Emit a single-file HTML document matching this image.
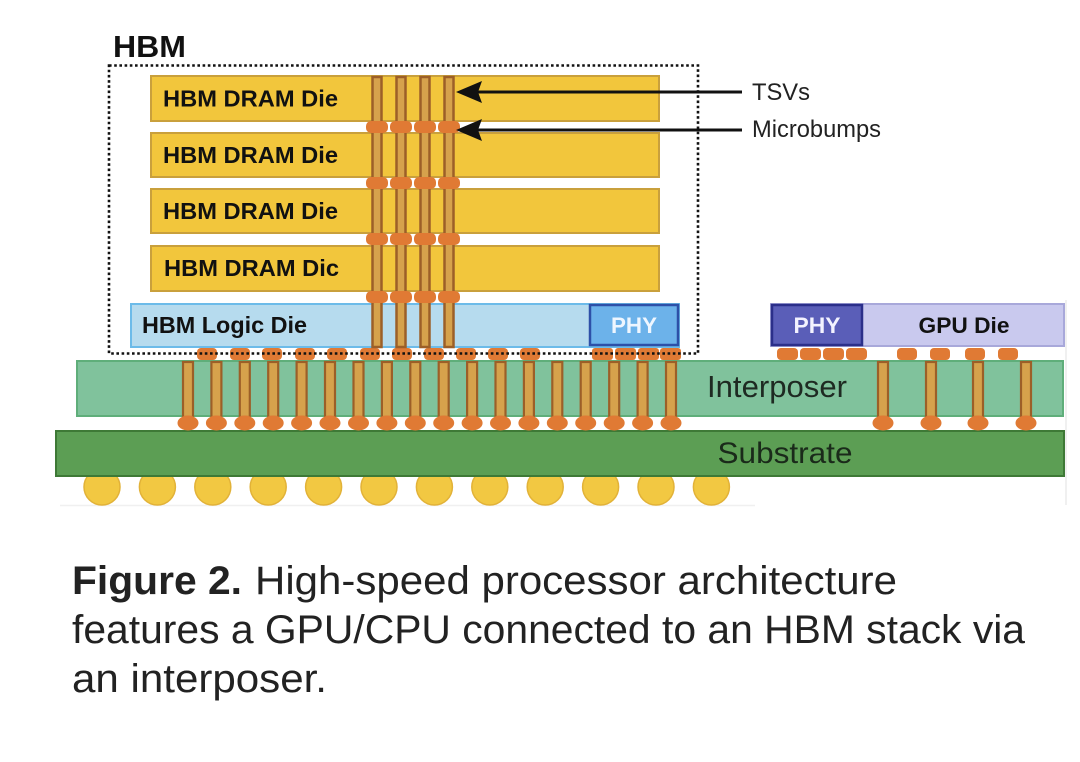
<!DOCTYPE html>
<html><head><meta charset="utf-8"><style>
html,body{margin:0;padding:0;background:#fff;}
svg{display:block;}
</style></head><body>
<svg width="1080" height="762" viewBox="0 0 1080 762" xmlns="http://www.w3.org/2000/svg">
<rect width="1080" height="762" fill="#fff"/>

<!-- faint image edges -->
<line x1="1066" y1="300" x2="1066" y2="505" stroke="#ececec" stroke-width="1.5"/>
<line x1="60" y1="505.5" x2="755" y2="505.5" stroke="#f0f0f0" stroke-width="1.5"/>

<!-- solder balls -->
<g fill="#f2c842" stroke="#e2b238" stroke-width="1.5">
<circle cx="102" cy="487" r="18"/><circle cx="157.4" cy="487" r="18"/><circle cx="212.8" cy="487" r="18"/>
<circle cx="268.2" cy="487" r="18"/><circle cx="323.6" cy="487" r="18"/><circle cx="379" cy="487" r="18"/>
<circle cx="434.4" cy="487" r="18"/><circle cx="489.8" cy="487" r="18"/><circle cx="545.2" cy="487" r="18"/>
<circle cx="600.6" cy="487" r="18"/><circle cx="656" cy="487" r="18"/><circle cx="711.4" cy="487" r="18"/>
</g>

<!-- substrate -->
<rect x="56" y="431" width="1008" height="45" fill="#5c9e54" stroke="#3e7936" stroke-width="2"/>
<text x="785" y="463" font-family="Liberation Sans, sans-serif" font-size="30" fill="#1a2a1a" text-anchor="middle" textLength="135" lengthAdjust="spacingAndGlyphs">Substrate</text>

<!-- interposer -->
<rect x="77" y="361" width="986" height="55" fill="#80c29c" stroke="#5fae7a" stroke-width="2"/>
<text x="777" y="397" font-family="Liberation Sans, sans-serif" font-size="31" fill="#1e2a22" text-anchor="middle" textLength="140" lengthAdjust="spacingAndGlyphs">Interposer</text>

<!-- interposer TSVs -->
<g fill="#d6a24c" stroke="#9c5f28" stroke-width="2.2">
<rect x="183" y="362" width="10" height="55"/><rect x="211.4" y="362" width="10" height="55"/>
<rect x="239.8" y="362" width="10" height="55"/><rect x="268.2" y="362" width="10" height="55"/>
<rect x="296.6" y="362" width="10" height="55"/><rect x="325" y="362" width="10" height="55"/>
<rect x="353.5" y="362" width="10" height="55"/><rect x="381.9" y="362" width="10" height="55"/>
<rect x="410.3" y="362" width="10" height="55"/><rect x="438.7" y="362" width="10" height="55"/>
<rect x="467.1" y="362" width="10" height="55"/><rect x="495.5" y="362" width="10" height="55"/>
<rect x="523.9" y="362" width="10" height="55"/><rect x="552.3" y="362" width="10" height="55"/>
<rect x="580.7" y="362" width="10" height="55"/><rect x="609.2" y="362" width="10" height="55"/>
<rect x="637.6" y="362" width="10" height="55"/><rect x="666" y="362" width="10" height="55"/>
<rect x="878" y="362" width="10" height="55"/><rect x="926" y="362" width="10" height="55"/>
<rect x="973" y="362" width="10" height="55"/><rect x="1021" y="362" width="10" height="55"/>
</g>
<!-- interposer bottom bumps -->
<g fill="#e07a34">
<ellipse cx="188" cy="423" rx="10.5" ry="7.5"/><ellipse cx="216.4" cy="423" rx="10.5" ry="7.5"/>
<ellipse cx="244.8" cy="423" rx="10.5" ry="7.5"/><ellipse cx="273.2" cy="423" rx="10.5" ry="7.5"/>
<ellipse cx="301.6" cy="423" rx="10.5" ry="7.5"/><ellipse cx="330" cy="423" rx="10.5" ry="7.5"/>
<ellipse cx="358.5" cy="423" rx="10.5" ry="7.5"/><ellipse cx="386.9" cy="423" rx="10.5" ry="7.5"/>
<ellipse cx="415.3" cy="423" rx="10.5" ry="7.5"/><ellipse cx="443.7" cy="423" rx="10.5" ry="7.5"/>
<ellipse cx="472.1" cy="423" rx="10.5" ry="7.5"/><ellipse cx="500.5" cy="423" rx="10.5" ry="7.5"/>
<ellipse cx="528.9" cy="423" rx="10.5" ry="7.5"/><ellipse cx="557.3" cy="423" rx="10.5" ry="7.5"/>
<ellipse cx="585.7" cy="423" rx="10.5" ry="7.5"/><ellipse cx="614.2" cy="423" rx="10.5" ry="7.5"/>
<ellipse cx="642.6" cy="423" rx="10.5" ry="7.5"/><ellipse cx="671" cy="423" rx="10.5" ry="7.5"/>
<ellipse cx="883" cy="423" rx="10.5" ry="7.5"/><ellipse cx="931" cy="423" rx="10.5" ry="7.5"/>
<ellipse cx="978" cy="423" rx="10.5" ry="7.5"/><ellipse cx="1026" cy="423" rx="10.5" ry="7.5"/>
</g>

<!-- top bumps die->interposer -->
<g fill="#e07a34">
<rect x="197" y="348" width="20" height="12" rx="4"/><rect x="230" y="348" width="20" height="12" rx="4"/>
<rect x="262" y="348" width="20" height="12" rx="4"/><rect x="295" y="348" width="20" height="12" rx="4"/>
<rect x="327" y="348" width="20" height="12" rx="4"/><rect x="360" y="348" width="20" height="12" rx="4"/>
<rect x="392" y="348" width="20" height="12" rx="4"/><rect x="424" y="348" width="20" height="12" rx="4"/>
<rect x="456" y="348" width="20" height="12" rx="4"/><rect x="488" y="348" width="20" height="12" rx="4"/>
<rect x="520" y="348" width="20" height="12" rx="4"/>
<rect x="592" y="348" width="21" height="12" rx="3"/><rect x="615" y="348" width="21" height="12" rx="3"/>
<rect x="638" y="348" width="21" height="12" rx="3"/><rect x="660" y="348" width="21" height="12" rx="3"/>
<rect x="777" y="348" width="21" height="12" rx="4"/><rect x="800" y="348" width="21" height="12" rx="4"/>
<rect x="823" y="348" width="21" height="12" rx="4"/><rect x="846" y="348" width="21" height="12" rx="4"/>
<rect x="897" y="348" width="20" height="12" rx="4"/><rect x="930" y="348" width="20" height="12" rx="4"/>
<rect x="965" y="348" width="20" height="12" rx="4"/><rect x="998" y="348" width="20" height="12" rx="4"/>
</g>

<!-- GPU die -->
<rect x="771" y="304" width="293" height="42" fill="#c9c9ee" stroke="#a8a8da" stroke-width="2"/>
<rect x="772" y="305" width="90" height="40" fill="#5a5eb8" stroke="#2b2f8a" stroke-width="2.5"/>
<text x="817" y="333" font-family="Liberation Sans, sans-serif" font-weight="bold" font-size="22" fill="#f2f2ff" text-anchor="middle" textLength="47" lengthAdjust="spacingAndGlyphs">PHY</text>
<text x="964" y="333" font-family="Liberation Sans, sans-serif" font-weight="bold" font-size="22" fill="#111" text-anchor="middle" textLength="91" lengthAdjust="spacingAndGlyphs">GPU Die</text>

<!-- HBM logic die -->
<rect x="131" y="304" width="548" height="43" fill="#b6dbee" stroke="#6cbbe9" stroke-width="2"/>
<rect x="590" y="305" width="88" height="40" fill="#6cb2ea" stroke="#2d50a8" stroke-width="2.5"/>
<text x="634" y="333" font-family="Liberation Sans, sans-serif" font-weight="bold" font-size="22" fill="#eef6ff" text-anchor="middle" textLength="46" lengthAdjust="spacingAndGlyphs">PHY</text>
<text x="142" y="333" font-family="Liberation Sans, sans-serif" font-weight="bold" font-size="23" fill="#111" textLength="165" lengthAdjust="spacingAndGlyphs">HBM Logic Die</text>

<!-- DRAM dies -->
<g fill="#f2c63c" stroke="#c9a03c" stroke-width="2">
<rect x="151" y="76" width="508" height="45"/>
<rect x="151" y="133" width="508" height="44"/>
<rect x="151" y="189" width="508" height="44"/>
<rect x="151" y="246" width="508" height="45"/>
</g>
<g font-family="Liberation Sans, sans-serif" font-weight="bold" font-size="23" fill="#111">
<text x="163" y="106.5" textLength="175" lengthAdjust="spacingAndGlyphs">HBM DRAM Die</text>
<text x="163" y="163" textLength="175" lengthAdjust="spacingAndGlyphs">HBM DRAM Die</text>
<text x="163" y="219" textLength="175" lengthAdjust="spacingAndGlyphs">HBM DRAM Die</text>
<text x="164" y="276" textLength="175" lengthAdjust="spacingAndGlyphs">HBM DRAM Dic</text>
</g>

<!-- stack TSVs -->
<g fill="#d6a24c" stroke="#9c5f28" stroke-width="2.5">
<rect x="372.5" y="77" width="9" height="270"/>
<rect x="396.5" y="77" width="9" height="270"/>
<rect x="420.5" y="77" width="9" height="270"/>
<rect x="444.5" y="77" width="9" height="270"/>
</g>
<!-- microbumps -->
<g fill="#e07a34">
<rect x="366" y="121" width="22" height="12" rx="5"/><rect x="390" y="121" width="22" height="12" rx="5"/>
<rect x="414" y="121" width="22" height="12" rx="5"/><rect x="438" y="121" width="22" height="12" rx="5"/>
<rect x="366" y="177" width="22" height="12" rx="5"/><rect x="390" y="177" width="22" height="12" rx="5"/>
<rect x="414" y="177" width="22" height="12" rx="5"/><rect x="438" y="177" width="22" height="12" rx="5"/>
<rect x="366" y="233" width="22" height="12" rx="5"/><rect x="390" y="233" width="22" height="12" rx="5"/>
<rect x="414" y="233" width="22" height="12" rx="5"/><rect x="438" y="233" width="22" height="12" rx="5"/>
<rect x="366" y="291" width="22" height="12" rx="5"/><rect x="390" y="291" width="22" height="12" rx="5"/>
<rect x="414" y="291" width="22" height="12" rx="5"/><rect x="438" y="291" width="22" height="12" rx="5"/>
</g>

<!-- HBM dotted boundary -->
<rect x="109" y="65.5" width="589" height="288" fill="none" stroke="#111" stroke-width="2.6" stroke-dasharray="2.6 2.6"/>
<text x="113" y="57" font-family="Liberation Sans, sans-serif" font-weight="bold" font-size="31" fill="#111" textLength="73" lengthAdjust="spacingAndGlyphs">HBM</text>

<!-- arrows -->
<line x1="476" y1="92" x2="742" y2="92" stroke="#111" stroke-width="3"/>
<polygon points="456,92 482,81 478,92 482,103" fill="#111"/>
<line x1="476" y1="130" x2="742" y2="130" stroke="#111" stroke-width="3"/>
<polygon points="456,130 482,119 478,130 482,141" fill="#111"/>
<text x="752" y="100" font-family="Liberation Sans, sans-serif" font-size="24" fill="#222" textLength="58" lengthAdjust="spacingAndGlyphs">TSVs</text>
<text x="752" y="137" font-family="Liberation Sans, sans-serif" font-size="24" fill="#222" textLength="129" lengthAdjust="spacingAndGlyphs">Microbumps</text>

<!-- caption -->
<g font-family="Liberation Sans, sans-serif" font-size="40" fill="#222">
<text x="72" y="594" font-weight="bold" textLength="170" lengthAdjust="spacingAndGlyphs">Figure 2.</text>
<text x="255" y="594" textLength="642" lengthAdjust="spacingAndGlyphs">High-speed processor architecture</text>
<text x="72" y="643" textLength="953" lengthAdjust="spacingAndGlyphs">features a GPU/CPU connected to an HBM stack via</text>
<text x="72" y="692" textLength="255" lengthAdjust="spacingAndGlyphs">an interposer.</text>
</g>
</svg>
</body></html>
